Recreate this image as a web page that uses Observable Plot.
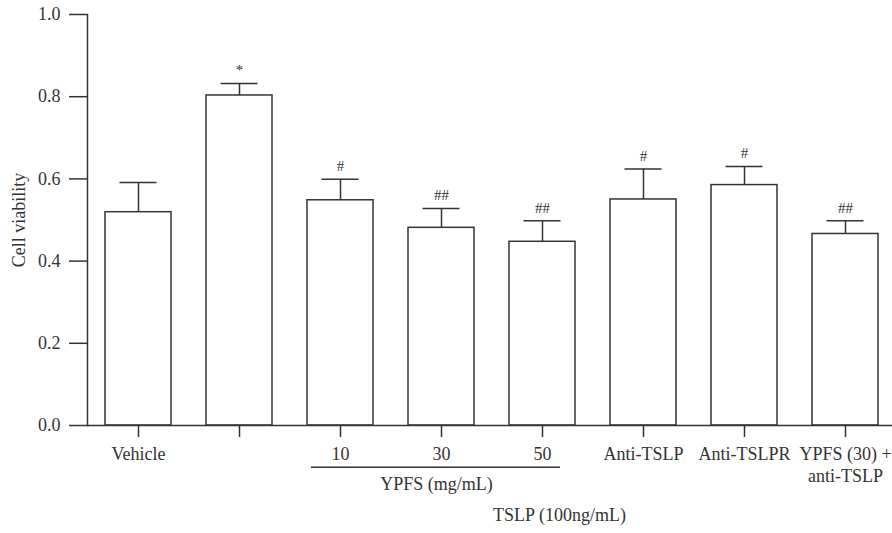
<!DOCTYPE html>
<html>
<head>
<meta charset="utf-8">
<script src="https://cdn.jsdelivr.net/npm/d3@7"></script>
<script src="https://cdn.jsdelivr.net/npm/@observablehq/plot@0.6"></script>
<style>
  html, body { margin: 0; padding: 0; background: #fff; }
  #chart svg { display: block; }
</style>
</head>
<body>
<div id="chart"></div>
<script>
// ---- data ----
const groups = ["vehicle", "tslp", "y10", "y30", "y50", "antiTSLP", "antiTSLPR", "combo"];
const tickLabels = ["Vehicle", "", "10", "30", "50", "Anti-TSLP", "Anti-TSLPR", "YPFS (30) +\nanti-TSLP"];
const means = [0.519, 0.803, 0.548, 0.481, 0.447, 0.550, 0.585, 0.466];
const errTops = [0.591, 0.832, 0.599, 0.528, 0.498, 0.624, 0.630, 0.498];
const signif = ["", "*", "#", "##", "##", "#", "#", "##"];
const yTicks = [0, 0.2, 0.4, 0.6, 0.8, 1.0];
const yTitle = "Cell viability";
const ypfsBracket = {label: "YPFS (mg/mL)", from: "y10", to: "y50", center: "y30"};
const tslpBracket = {label: "TSLP (100ng/mL)", from: "tslp", center: "y50"};

const rows = groups.map((g, i) => ({key: g, label: tickLabels[i], value: means[i], top: errTops[i], sig: signif[i]}));
const labelOf = new Map(groups.map((g, i) => [g, tickLabels[i]]));

const ink = "#333";
const font = "Liberation Serif, Times New Roman, serif";

const chart = Plot.plot({
  width: 892,
  height: 533,
  marginLeft: 87,
  marginRight: 0,
  marginTop: 14,
  marginBottom: 108,
  style: {fontFamily: font, fontSize: "18px", color: ink, background: "#fff"},
  x: {type: "band", domain: groups, paddingInner: 0.348, paddingOuter: 0.148, align: 0.567, axis: null},
  y: {domain: [0, 1], axis: null},
  marks: [
    Plot.frame({anchor: "left", stroke: ink, strokeWidth: 1.5}),
    Plot.axisY({ticks: yTicks, tickFormat: d3.format(".1f"), tickSize: 18, tickPadding: 9, label: null, stroke: ink, strokeWidth: 1.5, fontSize: 18, fill: ink}),
    Plot.axisX({tickSize: 12, tickPadding: 7.5, tickFormat: (d) => labelOf.get(d), label: null, stroke: ink, strokeWidth: 1.5, fontSize: 18, lineHeight: 1.2, fill: ink}),
    Plot.barY(rows, {x: "key", y: "value", fill: "white", stroke: ink, strokeWidth: 1.5}),
    Plot.ruleX(rows, {x: "key", y1: "value", y2: "top", stroke: ink, strokeWidth: 1.5}),
    Plot.tickY(rows, {x: "key", y: "top", stroke: ink, strokeWidth: 1.5, insetLeft: 14.5, insetRight: 14.5}),
    Plot.text(rows, {x: "key", y: "top", text: "sig", dy: -13, fontSize: 15, fill: ink}),
    Plot.ruleY([0], {stroke: ink, strokeWidth: 1.5}),
    Plot.text([yTitle], {frameAnchor: "left", textAnchor: "middle", rotate: -90, dx: -68, fontSize: 18, fill: ink}),
    // group brackets below the axis
    Plot.ruleY([ypfsBracket], {x1: "from", x2: "to", y: () => -0.1015, insetLeft: 4, insetRight: 15, stroke: ink, strokeWidth: 1.5}),
    Plot.text([ypfsBracket], {x: "center", y: () => -0.144, text: "label", dx: -5, fontSize: 18, fill: ink}),
    Plot.ruleY([tslpBracket], {x1: "from", y: () => -0.177, insetLeft: 19, stroke: ink, strokeWidth: 1.5}),
    Plot.text([tslpBracket], {x: "center", y: () => -0.2187, text: "label", dx: 17, fontSize: 18, fill: ink})
  ]
});
document.getElementById("chart").appendChild(chart);
</script>
</body>
</html>
